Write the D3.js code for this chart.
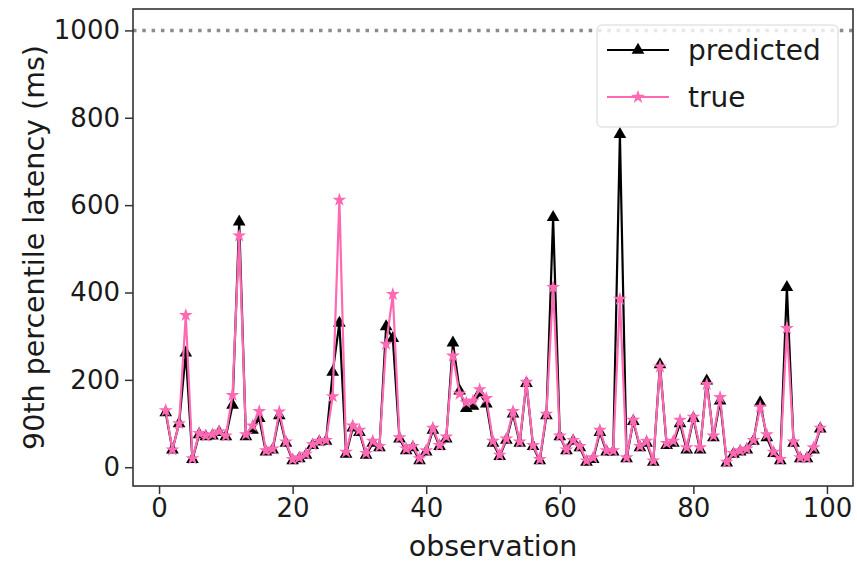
<!DOCTYPE html>
<html>
<head>
<meta charset="utf-8">
<script src="https://cdn.jsdelivr.net/npm/d3@7"></script>
<style>
  body { margin: 0; background: #fff; }
  text { font-family: "DejaVu Sans", sans-serif; fill: #1a1a1a; }
  .axis path, .axis line { stroke: #333; }
</style>
</head>
<body>
<script>
// observation index
const observations = [
  1, 2, 3, 4, 5, 6, 7, 8, 9, 10, 11, 12, 13, 14, 15, 16, 17, 18, 19, 20,
  21, 22, 23, 24, 25, 26, 27, 28, 29, 30, 31, 32, 33, 34, 35, 36, 37, 38, 39, 40,
  41, 42, 43, 44, 45, 46, 47, 48, 49, 50, 51, 52, 53, 54, 55, 56, 57, 58, 59, 60,
  61, 62, 63, 64, 65, 66, 67, 68, 69, 70, 71, 72, 73, 74, 75, 76, 77, 78, 79, 80,
  81, 82, 83, 84, 85, 86, 87, 88, 89, 90, 91, 92, 93, 94, 95, 96, 97, 98, 99
];

const predicted = [
  125, 40, 100, 262, 18, 75, 70, 72, 80, 70, 142, 562, 70, 85, 112, 35, 40, 118, 55, 15,
  20, 28, 50, 58, 60, 218, 330, 30, 90, 80, 28, 55, 45, 322, 295, 65, 38, 45, 15, 35,
  85, 48, 65, 285, 175, 135, 140, 170, 145, 55, 25, 62, 122, 55, 192, 48, 15, 118, 572, 70,
  38, 60, 45, 12, 18, 80, 35, 35, 762, 20, 105, 45, 55, 12, 235, 50, 55, 100, 40, 112,
  40, 198, 68, 152, 10, 30, 35, 40, 60, 148, 68, 32, 15, 412, 55, 20, 20, 40, 88
];

const trueVals = [
  130, 40, 100, 348, 20, 78, 72, 75, 82, 72, 165, 530, 75, 95, 128, 38, 42, 127, 58, 18,
  22, 30, 52, 60, 62, 162, 612, 35, 95, 85, 32, 60, 48, 282, 396, 68, 42, 48, 20, 38,
  90, 50, 70, 255, 168, 148, 152, 178, 158, 60, 28, 65, 128, 58, 195, 50, 18, 122, 412, 72,
  40, 62, 48, 15, 22, 85, 38, 38, 385, 22, 108, 48, 60, 15, 230, 55, 60, 108, 45, 115,
  45, 190, 72, 160, 12, 32, 38, 42, 62, 138, 75, 35, 18, 318, 58, 22, 22, 45, 90
];

const threshold = 1000;
const xTicks = [0, 20, 40, 60, 80, 100];
const yTicks = [0, 200, 400, 600, 800, 1000];

const W = 857, H = 562;
const margin = { top: 9, right: 4, bottom: 76, left: 133 };
const iw = W - margin.left - margin.right;
const ih = H - margin.top - margin.bottom;

const svg = d3.select('body').append('svg')
  .attr('width', W)
  .attr('height', H);

const g = svg.append('g')
  .attr('transform', `translate(${margin.left},${margin.top})`);

const x = d3.scaleLinear().domain([-3.9, 103.9]).range([0, iw]);
const y = d3.scaleLinear().domain([-43, 1049]).range([ih, 0]);

// dotted threshold line
g.append('line')
  .attr('x1', 0).attr('x2', iw)
  .attr('y1', y(threshold)).attr('y2', y(threshold))
  .attr('stroke', '#8c8c8c')
  .attr('stroke-width', 3.5)
  .attr('stroke-dasharray', '3.5,5.8');

const line = d3.line()
  .x((d, i) => x(observations[i]))
  .y(d => y(d));

const tri = d3.symbol().type(d3.symbolTriangle).size(70);
const star = d3.symbol().type(d3.symbolStar).size(60);

function series(vals, color, sym, cls) {
  g.append('path')
    .datum(vals)
    .attr('fill', 'none')
    .attr('stroke', color)
    .attr('stroke-width', 2.2)
    .attr('stroke-linejoin', 'round')
    .attr('d', line);
  g.selectAll('.' + cls)
    .data(vals)
    .enter().append('path')
    .attr('class', cls)
    .attr('d', sym)
    .attr('fill', color)
    .attr('transform', (d, i) => `translate(${x(observations[i])},${y(d)})`);
}

series(predicted, '#000', tri, 'pm');
series(trueVals, '#ff69b4', star, 'tm');

// axes
const xAxis = g.append('g')
  .attr('class', 'axis')
  .attr('transform', `translate(0,${ih})`)
  .call(d3.axisBottom(x).tickValues(xTicks).tickFormat(d3.format('d')).tickSize(8).tickPadding(5));
const yAxis = g.append('g')
  .attr('class', 'axis')
  .call(d3.axisLeft(y).tickValues(yTicks).tickFormat(d3.format('d')).tickSize(8).tickPadding(5));
[xAxis, yAxis].forEach(a => {
  a.select('.domain').remove();
  a.selectAll('line').attr('stroke-width', 1.5);
  a.selectAll('text').style('font-size', '26px').attr('fill', '#1a1a1a');
});

// frame
g.append('rect')
  .attr('width', iw).attr('height', ih)
  .attr('fill', 'none')
  .attr('stroke', '#333')
  .attr('stroke-width', 1.6);

// axis labels
svg.append('text')
  .attr('x', margin.left + iw / 2)
  .attr('y', 556)
  .attr('text-anchor', 'middle')
  .style('font-size', '28.5px')
  .text('observation');

svg.append('text')
  .attr('transform', `translate(44,${margin.top + ih / 2}) rotate(-90)`)
  .attr('text-anchor', 'middle')
  .style('font-size', '28.5px')
  .text('90th percentile latency (ms)');

// legend
const lg = svg.append('g').attr('transform', 'translate(597,25)');
lg.append('rect')
  .attr('width', 241).attr('height', 102)
  .attr('rx', 5)
  .attr('fill', '#fff').attr('fill-opacity', 0.8)
  .attr('stroke', '#d6d6d6');
const items = [
  { name: 'predicted', color: '#000', sym: tri, y: 25 },
  { name: 'true', color: '#ff69b4', sym: star, y: 72 }
];
items.forEach(it => {
  lg.append('line')
    .attr('x1', 10).attr('x2', 72)
    .attr('y1', it.y).attr('y2', it.y)
    .attr('stroke', it.color).attr('stroke-width', 2.2);
  lg.append('path')
    .attr('d', it.sym)
    .attr('fill', it.color)
    .attr('transform', `translate(41,${it.y})`);
  lg.append('text')
    .attr('x', 91).attr('y', it.y)
    .attr('dy', '0.35em')
    .style('font-size', '28px')
    .text(it.name);
});
</script>
</body>
</html>
